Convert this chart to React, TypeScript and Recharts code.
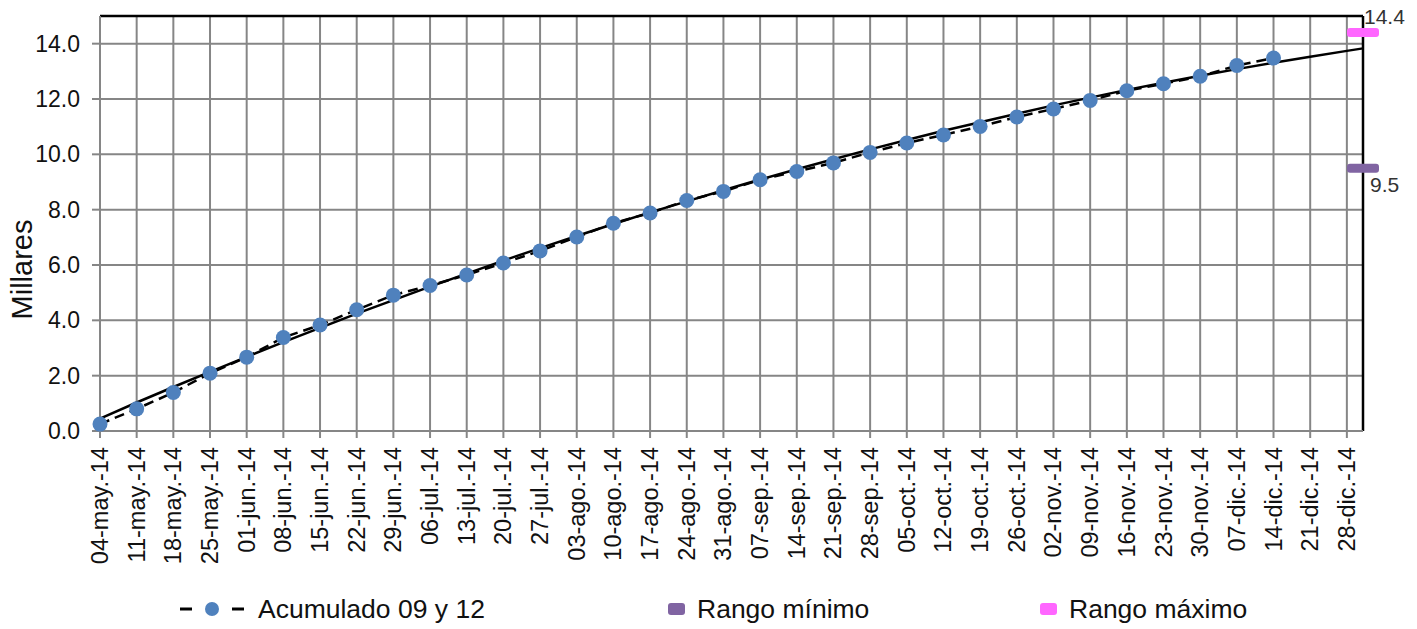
import { ComposedChart, XAxis, YAxis, CartesianGrid, Line, Scatter, ReferenceLine, Legend } from "recharts";

const FONT = '"Liberation Sans", Arial, sans-serif';

const weeks = [
  "04-may.-14", "11-may.-14", "18-may.-14", "25-may.-14", "01-jun.-14", "08-jun.-14", "15-jun.-14",
  "22-jun.-14", "29-jun.-14", "06-jul.-14", "13-jul.-14", "20-jul.-14", "27-jul.-14", "03-ago.-14",
  "10-ago.-14", "17-ago.-14", "24-ago.-14", "31-ago.-14", "07-sep.-14", "14-sep.-14", "21-sep.-14",
  "28-sep.-14", "05-oct.-14", "12-oct.-14", "19-oct.-14", "26-oct.-14", "02-nov.-14", "09-nov.-14",
  "16-nov.-14", "23-nov.-14", "30-nov.-14", "07-dic.-14", "14-dic.-14", "21-dic.-14", "28-dic.-14",
];

// Acumulado 09 y 12 (miles), one value per week up to 14-dic
const acumulado = [
  0.25, 0.8, 1.39, 2.09, 2.67, 3.38, 3.83, 4.38, 4.91, 5.26, 5.64, 6.07, 6.51, 7.01, 7.51, 7.88, 8.33,
  8.66, 9.08, 9.38, 9.69, 10.07, 10.41, 10.7, 11.01, 11.35, 11.64, 11.95, 12.3, 12.55, 12.82, 13.21, 13.48,
];

// trend line read at each week, last value at the right border
const tendencia = [
  0.45, 1.03, 1.59, 2.14, 2.68, 3.21, 3.73, 4.24, 4.73, 5.22, 5.69, 6.16, 6.61, 7.05, 7.48, 7.9, 8.3,
  8.7, 9.09, 9.46, 9.82, 10.18, 10.52, 10.85, 11.16, 11.47, 11.77, 12.05, 12.33, 12.59, 12.84, 13.08,
  13.31, 13.53, 13.74, 13.83,
];

const rangoMinimo = 9.5;
const rangoMaximo = 14.4;
const yTicks = [0, 2, 4, 6, 8, 10, 12, 14];

const xMax = 34.44; // right border sits a bit past the last week
const dataRows = acumulado.map((v, i) => ({ x: i, v }));
const trendRows = tendencia.map((t, i) => ({ x: i < weeks.length ? i : xMax, t }));
const minRow = [{ x: xMax, y: rangoMinimo }];
const maxRow = [{ x: xMax, y: rangoMaximo }];

function WeekTick({ x, y, payload }: any) {
  return (
    <text
      x={x}
      y={y}
      transform={`rotate(-90, ${x}, ${y})`}
      textAnchor="end"
      dominantBaseline="central"
      fontFamily={FONT}
      fontSize={23.5}
      fill="#111"
    >
      {weeks[payload.value]}
    </text>
  );
}

function rangeMark(color: string, above: boolean) {
  return (props: any) => {
    const { cx, cy, payload } = props;
    return (
      <g>
        <rect x={cx - 16} y={cy - 4.5} width={32} height={9} rx={3} fill={color} />
        <text
          x={above ? cx + 1 : cx + 7}
          y={above ? cy - 9 : cy + 24}
          fontFamily={FONT}
          fontSize={21}
          fill="#333"
        >
          {payload.y.toFixed(1)}
        </text>
      </g>
    );
  };
}

function LegendBox() {
  const item = { position: "absolute" as const, top: 4, height: 48, display: "flex", alignItems: "center" };
  const text = { fontFamily: FONT, fontSize: 26.5, color: "#111", whiteSpace: "nowrap" as const };
  return (
    <div style={{ position: "relative", height: 48, width: 1417 }}>
      <div style={{ ...item, left: 180 }}>
        <svg width={66} height={20} style={{ marginRight: 12 }}>
          <line x1={0} y1={10} x2={12} y2={10} stroke="#000" strokeWidth={3} />
          <line x1={52} y1={10} x2={64} y2={10} stroke="#000" strokeWidth={3} />
          <circle cx={32} cy={10} r={7} fill="#4f81bd" />
        </svg>
        <span style={text}>Acumulado 09 y 12</span>
      </div>
      <div style={{ ...item, left: 668 }}>
        <span style={{ width: 17, height: 12, borderRadius: 3, background: "#8064a2", marginRight: 12 }} />
        <span style={text}>Rango mínimo</span>
      </div>
      <div style={{ ...item, left: 1040 }}>
        <span style={{ width: 17, height: 12, borderRadius: 3, background: "#ff66ff", marginRight: 12 }} />
        <span style={text}>Rango máximo</span>
      </div>
    </div>
  );
}

export default function App() {
  return (
    <div style={{ position: "absolute", left: 0, top: 0, width: 1417, height: 629, background: "#fff" }}>
      <ComposedChart width={1417} height={629} margin={{ top: 16, right: 54, left: 0, bottom: 0 }}>
        <CartesianGrid stroke="#868686" strokeWidth={2} />
        <XAxis
          type="number"
          dataKey="x"
          domain={[0, xMax]}
          ticks={weeks.map((_, i) => i)}
          interval={0}
          height={150}
          tick={<WeekTick />}
          tickSize={7}
          tickMargin={9}
          axisLine={{ stroke: "#868686", strokeWidth: 2 }}
          tickLine={{ stroke: "#868686", strokeWidth: 2 }}
        />
        <YAxis
          type="number"
          domain={[0, 15]}
          ticks={yTicks}
          width={100}
          tickSize={8}
          tickMargin={12}
          tickFormatter={(v) => Number(v).toFixed(1)}
          tick={{ fontFamily: FONT, fontSize: 23, fill: "#111" }}
          axisLine={{ stroke: "#868686", strokeWidth: 2 }}
          tickLine={{ stroke: "#868686", strokeWidth: 2 }}
          label={{
            content: ({ viewBox }: any) => {
              const cx = 22;
              const cy = viewBox.y + viewBox.height / 2 + 46;
              return (
                <text
                  x={cx}
                  y={cy}
                  transform={`rotate(-90, ${cx}, ${cy})`}
                  textAnchor="middle"
                  dominantBaseline="central"
                  fontFamily={FONT}
                  fontSize={29}
                  fill="#111"
                >
                  Millares
                </text>
              );
            },
          }}
        />
        <ReferenceLine y={15} stroke="#000" strokeWidth={2.5} />
        <ReferenceLine x={xMax} stroke="#000" strokeWidth={2.5} />
        <Line
          data={dataRows}
          dataKey="v"
          stroke="#000"
          strokeWidth={2.5}
          strokeDasharray="10 6"
          dot={{ r: 7.5, fill: "#4f81bd", stroke: "none" }}
          activeDot={false}
          isAnimationActive={false}
        />
        <Line
          data={trendRows}
          dataKey="t"
          stroke="#000"
          strokeWidth={2.5}
          dot={false}
          activeDot={false}
          isAnimationActive={false}
        />
        <Scatter data={minRow} dataKey="y" shape={rangeMark("#8064a2", false)} isAnimationActive={false} />
        <Scatter data={maxRow} dataKey="y" shape={rangeMark("#ff66ff", true)} isAnimationActive={false} />
        <Legend verticalAlign="bottom" wrapperStyle={{ left: 0, width: 1417 }} content={() => <LegendBox />} />
      </ComposedChart>
    </div>
  );
}
